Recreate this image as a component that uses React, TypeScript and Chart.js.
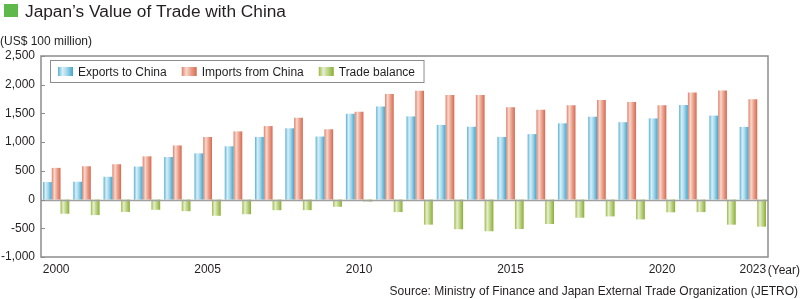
import React, { useEffect, useRef } from "react";
import { Chart, registerables } from "chart.js";

Chart.register(...registerables);

const years: string[] = [
  "2000", "2001", "2002", "2003", "2004", "2005", "2006", "2007", "2008", "2009", "2010", "2011",
  "2012", "2013", "2014", "2015", "2016", "2017", "2018", "2019", "2020", "2021", "2022", "2023",
];
const exportsToChina: number[] = [
  305, 310, 397, 575, 741, 805, 928, 1091, 1241, 1098, 1494, 1621,
  1448, 1300, 1268, 1091, 1140, 1328, 1443, 1348, 1414, 1645, 1462, 1266,
];
const importsFromChina: number[] = [
  552, 580, 615, 753, 943, 1090, 1187, 1280, 1425, 1224, 1530, 1839,
  1895, 1820, 1820, 1607, 1563, 1644, 1736, 1697, 1644, 1864, 1898, 1745,
];
const tradeBalance: number[] = [
  -247, -270, -215, -178, -202, -282, -255, -185, -184, -126, -36, -218,
  -437, -517, -552, -512, -425, -316, -293, -345, -222, -218, -437, -472,
];
const seriesLabels: string[] = ["Exports to China", "Imports from China", "Trade balance"];
const shownYears: string[] = ["2000", "2005", "2010", "2015", "2020", "2023"];
const yTicks: number[] = [-1000, -500, 0, 500, 1000, 1500, 2000, 2500];

const TITLE = "Japan\u2019s Value of Trade with China";
const UNIT = "(US$ 100 million)";
const SOURCE = "Source: Ministry of Finance and Japan External Trade Organization (JETRO)";
const YEAR_UNIT = "(Year)";

const FONT = '"Liberation Sans", Arial, Helvetica, sans-serif';
const TEXT = "#231f20";
const FRAME = "#8c8c8c";

const gradStops: [number, string][][] = [
  [[0, "#58b2d4"], [0.3, "#d9eff7"], [0.6, "#a3d5e9"], [1, "#3fa6ce"]],
  [[0, "#df7f69"], [0.3, "#f8d9ce"], [0.6, "#eba48f"], [1, "#d66a52"]],
  [[0, "#98ba42"], [0.3, "#e7efd0"], [0.6, "#bfd487"], [1, "#8aae36"]],
];
const solidColors = ["#5ab4d6", "#e28a74", "#a3c350"];

function makeGrad(ctx: CanvasRenderingContext2D, x0: number, x1: number, k: number) {
  const g = ctx.createLinearGradient(x0, 0, x1, 0);
  for (const [p, c] of gradStops[k]) g.addColorStop(p, c);
  return g;
}

const decorPlugin = {
  id: "decor",
  beforeDatasetsDraw(chart: any) {
    const ctx = chart.ctx as CanvasRenderingContext2D;
    chart.data.datasets.forEach((_ds: any, di: number) => {
      const meta = chart.getDatasetMeta(di);
      meta.data.forEach((el: any) => {
        const w = el.width;
        const g = makeGrad(ctx, el.x - w / 2, el.x + w / 2, di);
        el.options = { ...el.options, backgroundColor: g };
      });
    });
  },
  afterDatasetsDraw(chart: any) {
    const ctx = chart.ctx as CanvasRenderingContext2D;
    const a = chart.chartArea;
    const y = chart.scales.y;
    ctx.save();
    // zero line
    const z = Math.round(y.getPixelForValue(0)) + 0.5;
    ctx.strokeStyle = "#a0a0a0";
    ctx.lineWidth = 1.5;
    ctx.beginPath();
    ctx.moveTo(a.left, z);
    ctx.lineTo(a.right, z);
    ctx.stroke();
    // frame
    ctx.strokeStyle = FRAME;
    ctx.lineWidth = 1.5;
    ctx.strokeRect(a.left, a.top, a.right - a.left, a.bottom - a.top);
    // inward tick marks
    ctx.lineWidth = 1;
    ctx.beginPath();
    for (const t of yTicks) {
      const py = Math.round(y.getPixelForValue(t)) + 0.5;
      ctx.moveTo(a.left, py);
      ctx.lineTo(a.left + 4, py);
    }
    ctx.stroke();

    // legend
    ctx.font = `12px ${FONT}`;
    const boxX = 50.5, boxY = 60.5, boxH = 22;
    let x = 58;
    const items: { sx: number; tx: number }[] = [];
    seriesLabels.forEach((lab) => {
      const sx = x;
      const tx = sx + 20;
      items.push({ sx, tx });
      x = tx + ctx.measureText(lab).width + 15;
    });
    const boxW = x - 15 + 9 - boxX;
    ctx.fillStyle = "#ffffff";
    ctx.fillRect(boxX, boxY, boxW, boxH);
    ctx.strokeStyle = FRAME;
    ctx.lineWidth = 1;
    ctx.strokeRect(boxX, boxY, boxW, boxH);
    seriesLabels.forEach((lab, i) => {
      const { sx, tx } = items[i];
      ctx.fillStyle = makeGrad(ctx, sx, sx + 15, i);
      ctx.fillRect(sx, 67, 15, 9);
      ctx.fillStyle = TEXT;
      ctx.textAlign = "left";
      ctx.textBaseline = "alphabetic";
      ctx.fillText(lab, tx, 76);
    });

    // title
    ctx.fillStyle = "#5fb94a";
    ctx.fillRect(4, 4, 14, 13);
    ctx.fillStyle = TEXT;
    ctx.font = `17.3px ${FONT}`;
    ctx.fillText(TITLE, 25, 17);
    // unit
    ctx.font = `12px ${FONT}`;
    ctx.fillText(UNIT, 0, 45);
    // year unit and source
    ctx.textAlign = "right";
    ctx.fillText(YEAR_UNIT, 800, 273.5);
    ctx.fillText(SOURCE, 798, 295);
    ctx.restore();
  },
};

export default function App() {
  const ref = useRef<HTMLCanvasElement | null>(null);
  useEffect(() => {
    if (!ref.current) return;
    const chart = new Chart(ref.current, {
      type: "bar",
      data: {
        labels: years,
        datasets: [
          { label: seriesLabels[0], data: exportsToChina, backgroundColor: solidColors[0] },
          { label: seriesLabels[1], data: importsFromChina, backgroundColor: solidColors[1] },
          { label: seriesLabels[2], data: tradeBalance, backgroundColor: solidColors[2] },
        ],
      },
      options: {
        responsive: false,
        animation: false,
        devicePixelRatio: 1,
        layout: { padding: { left: 0, right: 32, top: 56, bottom: 0 } },
        datasets: { bar: { categoryPercentage: 0.87, barPercentage: 1.0, borderWidth: 0 } },
        plugins: { legend: { display: false }, tooltip: { enabled: false }, title: { display: false } },
        scales: {
          x: {
            type: "category",
            grid: { display: false, drawTicks: false },
            border: { display: false },
            afterFit: (s: any) => { s.height = 42; },
            ticks: {
              autoSkip: false,
              maxRotation: 0,
              padding: 5,
              color: TEXT,
              font: { family: FONT, size: 12 },
              callback: function (this: any, v: any) {
                const lab = years[v as number];
                return shownYears.includes(lab) ? lab : "";
              },
            },
          },
          y: {
            min: -1000,
            max: 2500,
            afterFit: (s: any) => { s.width = 41; },
            afterBuildTicks: (s: any) => { s.ticks = yTicks.map((v) => ({ value: v })); },
            grid: { display: false, drawTicks: false },
            border: { display: false },
            ticks: {
              padding: 6,
              color: TEXT,
              font: { family: FONT, size: 12 },
              callback: (v: any) => Number(v).toLocaleString("en-US"),
            },
          },
        },
      },
      plugins: [decorPlugin],
    });
    return () => chart.destroy();
  }, []);
  return (
    <div style={{ position: "fixed", left: 0, top: 0, width: 800, height: 299, background: "#fff" }}>
      <canvas ref={ref} width={800} height={299} style={{ display: "block", width: 800, height: 299 }} />
    </div>
  );
}
